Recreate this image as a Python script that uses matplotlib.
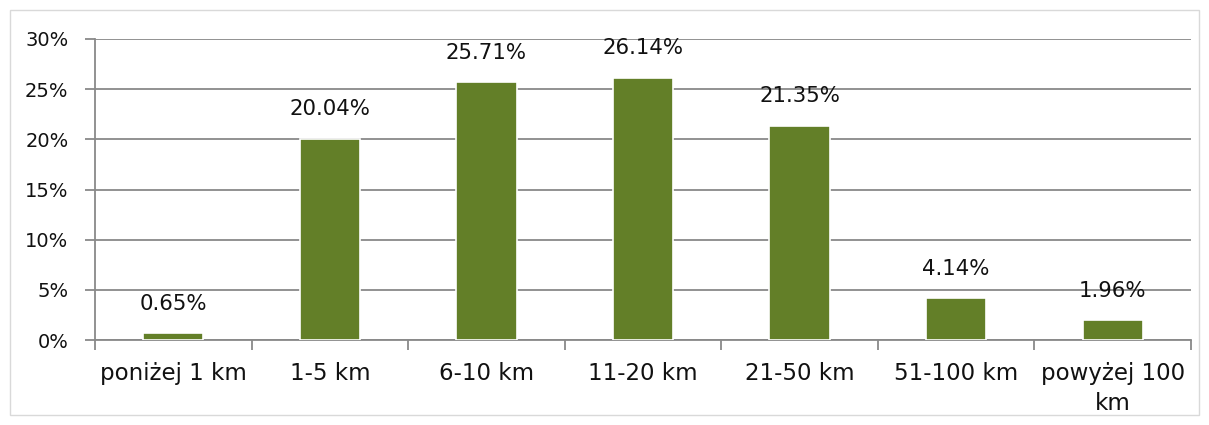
import matplotlib
matplotlib.use("Agg")
import matplotlib.pyplot as plt
from matplotlib.patches import Rectangle
import numpy as np

categories = ["poniżej 1 km", "1-5 km", "6-10 km", "11-20 km", "21-50 km", "51-100 km", "powyżej 100\nkm"]
values = [0.65, 20.04, 25.71, 26.14, 21.35, 4.14, 1.96]
yticks = [0, 5, 10, 15, 20, 25, 30]

W, H = 1209, 425
fig = plt.figure(figsize=(W/100, H/100), dpi=100)
fig.patches.append(Rectangle((10/W, 10/H), (1199-10)/W, (415-10)/H, transform=fig.transFigure,
                             fill=False, edgecolor="#D9D9D9", linewidth=1.0))
ax = fig.add_axes([95/W, (H-340)/H, (1191-95)/W, (340-39)/H])

x = np.arange(len(categories))
bars = ax.bar(x, values, width=0.385, color="#637F28", edgecolor="white", linewidth=1.2, zorder=3)
for xi, v in zip(x, values):
    ax.annotate(f"{v:.2f}%", (xi, v), xytext=(0, 14), textcoords="offset points",
                ha="center", va="bottom", fontsize=15.3, color="#111111", zorder=4)

ax.set_xlim(-0.5, len(categories) - 0.5)
ax.set_ylim(0, 30)
ax.set_yticks(yticks)
ax.set_yticklabels([f"{t}%" for t in yticks], fontsize=14, color="#111111")
ax.yaxis.grid(True, color="#898989", linewidth=1.3, zorder=0)
ax.set_axisbelow(True)

ax.set_xticks(np.arange(-0.5, len(categories), 1.0))
ax.set_xticklabels([])
ax.set_xticks(x, minor=True)
ax.set_xticklabels(categories, minor=True, fontsize=16.5, color="#111111", linespacing=1.35)
ax.tick_params(axis="x", which="minor", length=0, pad=16)
ax.tick_params(axis="x", which="major", length=7, width=1.3, color="#898989")
ax.tick_params(axis="y", length=7, width=1.3, color="#898989", pad=12)

for s in ["top", "right"]:
    ax.spines[s].set_visible(False)
for s in ["left", "bottom"]:
    ax.spines[s].set_color("#898989")
    ax.spines[s].set_linewidth(1.3)

fig.savefig("out.png", dpi=100)
